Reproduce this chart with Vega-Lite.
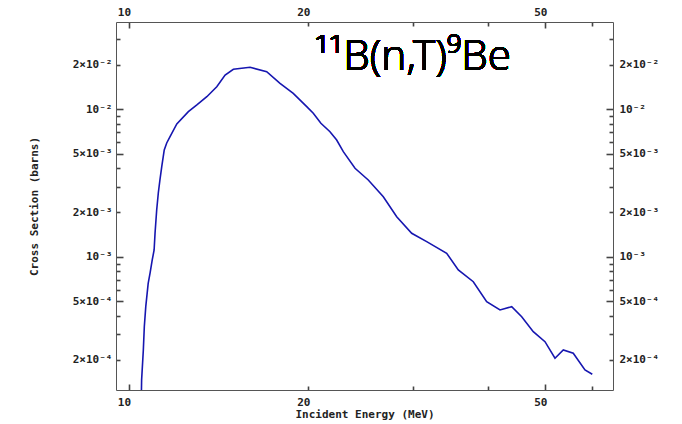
{
  "$schema": "https://vega.github.io/schema/vega-lite/v6.json",
  "width": 497,
  "height": 368,
  "autosize": "none",
  "padding": {"left": 116, "top": 22, "right": 69, "bottom": 34},
  "background": "white",
  "config": {
    "view": {"stroke": null},
    "axis": {
      "grid": false,
      "domainColor": "#555555",
      "domainWidth": 1,
      "tickColor": "#444444",
      "tickWidth": 1.6,
      "labelFont": "DejaVu Sans Mono",
      "labelFontWeight": "bold",
      "labelFontSize": 11,
      "labelColor": "#222222",
      "labelOverlap": false,
      "labelFlush": false,
      "labelBound": false,
      "titleFont": "DejaVu Sans Mono",
      "titleFontWeight": "bold",
      "titleFontSize": 11,
      "titleColor": "#222222"
    }
  },
  "data": {
    "values": [
      {"E": 10.49, "xs": 0.0001158},
      {"E": 10.50, "xs": 0.0001464},
      {"E": 10.57, "xs": 0.0002338},
      {"E": 10.61, "xs": 0.0003363},
      {"E": 10.67, "xs": 0.0004596},
      {"E": 10.77, "xs": 0.000662},
      {"E": 10.85, "xs": 0.000778},
      {"E": 10.94, "xs": 0.000953},
      {"E": 11.02, "xs": 0.001114},
      {"E": 11.06, "xs": 0.001452},
      {"E": 11.13, "xs": 0.002079},
      {"E": 11.20, "xs": 0.002711},
      {"E": 11.27, "xs": 0.003322},
      {"E": 11.35, "xs": 0.004087},
      {"E": 11.46, "xs": 0.005306},
      {"E": 11.57, "xs": 0.005919},
      {"E": 11.72, "xs": 0.00653},
      {"E": 12.03, "xs": 0.007962},
      {"E": 12.58, "xs": 0.00965},
      {"E": 13.00, "xs": 0.010716},
      {"E": 13.51, "xs": 0.01219},
      {"E": 14.04, "xs": 0.01425},
      {"E": 14.50, "xs": 0.01711},
      {"E": 14.97, "xs": 0.0187},
      {"E": 15.97, "xs": 0.01929},
      {"E": 17.03, "xs": 0.01801},
      {"E": 17.93, "xs": 0.01503},
      {"E": 18.87, "xs": 0.01285},
      {"E": 19.88, "xs": 0.010436},
      {"E": 20.39, "xs": 0.00941},
      {"E": 21.00, "xs": 0.00805},
      {"E": 21.75, "xs": 0.00706},
      {"E": 22.32, "xs": 0.0062},
      {"E": 22.90, "xs": 0.005167},
      {"E": 23.96, "xs": 0.003988},
      {"E": 25.22, "xs": 0.003322},
      {"E": 26.73, "xs": 0.002559},
      {"E": 28.15, "xs": 0.001873},
      {"E": 29.83, "xs": 0.001446},
      {"E": 31.61, "xs": 0.001268},
      {"E": 34.15, "xs": 0.001058},
      {"E": 35.72, "xs": 0.000815},
      {"E": 37.85, "xs": 0.000679},
      {"E": 39.86, "xs": 0.0004968},
      {"E": 41.97, "xs": 0.0004366},
      {"E": 43.91, "xs": 0.0004596},
      {"E": 45.64, "xs": 0.0003932},
      {"E": 47.73, "xs": 0.000311},
      {"E": 49.94, "xs": 0.0002662},
      {"E": 51.91, "xs": 0.0002054},
      {"E": 53.60, "xs": 0.0002338},
      {"E": 55.71, "xs": 0.0002221},
      {"E": 58.29, "xs": 0.0001711},
      {"E": 59.96, "xs": 0.00016}
    ]
  },
  "layer": [
    {
      "mark": {"type": "line", "color": "#1616b0", "strokeWidth": 1.6, "clip": true, "interpolate": "linear"},
      "encoding": {
        "x": {
          "field": "E",
          "type": "quantitative",
          "scale": {"type": "log", "domain": [9.51, 64.96], "nice": false, "zero": false},
          "axis": {
            "orient": "bottom",
            "values": [10, 20, 30, 40, 50, 60],
            "labelExpr": "(datum.value == 10 || datum.value == 20 || datum.value == 50) ? datum.value : ''",
            "tickSize": {"condition": {"test": "datum.value == 10 || datum.value == 50", "value": -6}, "value": -4},
            "labelPadding": {"condition": {"test": "datum.value == 10 || datum.value == 50", "value": 12}, "value": 10},
            "labelOffset": -5,
            "title": "Incident Energy (MeV)",
            "titlePadding": 1
          }
        },
        "y": {
          "field": "xs",
          "type": "quantitative",
          "scale": {"type": "log", "domain": [0.00012517, 0.03913], "nice": false, "zero": false},
          "axis": {
            "orient": "left",
            "values": [0.03, 0.02, 0.01, 0.009, 0.008, 0.007, 0.006, 0.005, 0.004, 0.003, 0.002, 0.001, 0.0009, 0.0008, 0.0007, 0.0006, 0.0005, 0.0004, 0.0003, 0.0002],
            "labelExpr": "datum.value == 0.02 ? '2×10⁻²' : datum.value == 0.01 ? '10⁻²' : datum.value == 0.005 ? '5×10⁻³' : datum.value == 0.002 ? '2×10⁻³' : datum.value == 0.001 ? '10⁻³' : datum.value == 0.0005 ? '5×10⁻⁴' : datum.value == 0.0002 ? '2×10⁻⁴' : ''",
            "tickSize": {"condition": {"test": "datum.value == 0.01 || datum.value == 0.005 || datum.value == 0.001 || datum.value == 0.0005", "value": -7}, "value": -4},
            "labelPadding": {"condition": {"test": "datum.value == 0.01 || datum.value == 0.005 || datum.value == 0.001 || datum.value == 0.0005", "value": 11}, "value": 8},
            "title": "Cross Section (barns)",
            "titlePadding": 33
          }
        }
      }
    },
    {
      "mark": {"type": "text", "text": "¹¹B(n,T)⁹Be", "font": "Noto Sans", "fontSize": 42, "fontWeight": 300, "color": "#000000", "align": "left", "baseline": "alphabetic"},
      "encoding": {
        "x": {
          "datum": 20.5,
          "type": "quantitative",
          "axis": {
            "orient": "top",
            "values": [10, 20, 30, 40, 50, 60],
            "labelExpr": "(datum.value == 10 || datum.value == 20 || datum.value == 50) ? datum.value : ''",
            "tickSize": {"condition": {"test": "datum.value == 10 || datum.value == 50", "value": -6}, "value": -4},
            "labelPadding": {"condition": {"test": "datum.value == 10 || datum.value == 50", "value": 11}, "value": 9},
            "labelOffset": -5,
            "title": null
          }
        },
        "y": {
          "datum": 0.01855,
          "type": "quantitative",
          "axis": {
            "orient": "right",
            "values": [0.03, 0.02, 0.01, 0.009, 0.008, 0.007, 0.006, 0.005, 0.004, 0.003, 0.002, 0.001, 0.0009, 0.0008, 0.0007, 0.0006, 0.0005, 0.0004, 0.0003, 0.0002],
            "labelExpr": "datum.value == 0.02 ? '2×10⁻²' : datum.value == 0.01 ? '10⁻²' : datum.value == 0.005 ? '5×10⁻³' : datum.value == 0.002 ? '2×10⁻³' : datum.value == 0.001 ? '10⁻³' : datum.value == 0.0005 ? '5×10⁻⁴' : datum.value == 0.0002 ? '2×10⁻⁴' : ''",
            "tickSize": {"condition": {"test": "datum.value == 0.01 || datum.value == 0.005 || datum.value == 0.001 || datum.value == 0.0005", "value": -7}, "value": -4},
            "labelPadding": {"condition": {"test": "datum.value == 0.01 || datum.value == 0.005 || datum.value == 0.001 || datum.value == 0.0005", "value": 13}, "value": 10},
            "title": null
          }
        }
      }
    }
  ],
  "resolve": {"axis": {"x": "independent", "y": "independent"}}
}
